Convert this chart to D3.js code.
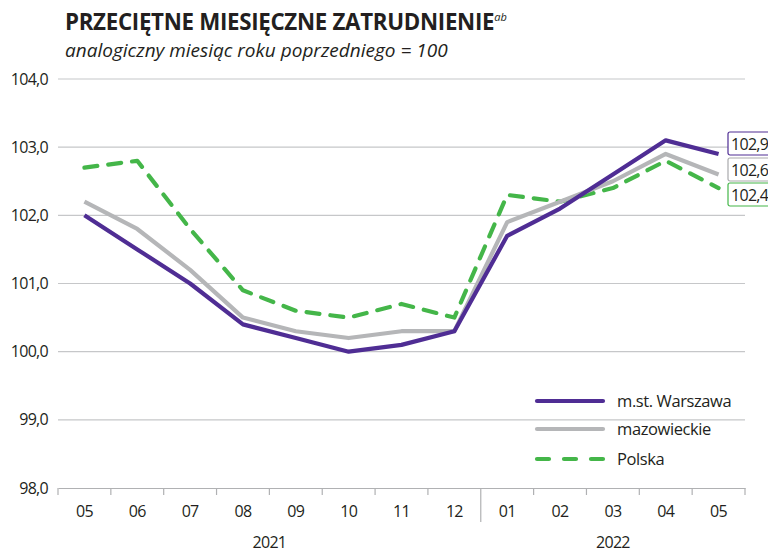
<!DOCTYPE html>
<html><head><meta charset="utf-8">
<script src="https://cdn.jsdelivr.net/npm/d3@7"></script>
<style>
body{margin:0;background:#fff;}
svg{display:block;font-family:"Open Sans","Noto Sans",sans-serif;}
</style></head>
<body><svg id="c" width="768" height="553"></svg>
<script>
const months = ["05","06","07","08","09","10","11","12","01","02","03","04","05"];
const years = [{label:"2021", from:0, to:7},{label:"2022", from:8, to:12}];
const yTicks = [98,99,100,101,102,103,104];
const warszawa = [102.0,101.5,101.0,100.4,100.2,100.0,100.1,100.3,101.7,102.1,102.6,103.1,102.9];
const mazowieckie = [102.2,101.8,101.2,100.5,100.3,100.2,100.3,100.3,101.9,102.2,102.5,102.9,102.6];
const polska = [102.7,102.8,101.8,100.9,100.6,100.5,100.7,100.5,102.3,102.2,102.4,102.8,102.4];
const seriesNames = ["m.st. Warszawa","mazowieckie","Polska"];

const series = [
  {name:seriesNames[0], values:warszawa, color:"#4f2d94", dash:null},
  {name:seriesNames[1], values:mazowieckie, color:"#b5b6b8", dash:null},
  {name:seriesNames[2], values:polska, color:"#44b649", dash:"13,11"}
];
const fmt = v => v.toFixed(1).replace(".", ",");

const svg = d3.select("#c");
const x = d3.scaleBand().domain(d3.range(months.length)).range([58,745]);
const y = d3.scaleLinear().domain([98,104]).range([488,79]);

// title
const t = svg.append("text").attr("x",65).attr("y",30).attr("font-size",22.3).attr("font-weight",700).attr("fill","#231f20").attr("letter-spacing","-0.3");
t.append("tspan").text("PRZECIĘTNE MIESIĘCZNE ZATRUDNIENIE");
t.append("tspan").attr("dy",-9).attr("font-size",11).attr("font-style","italic").attr("font-weight",400).attr("letter-spacing","0").text("ab");
svg.append("text").attr("x",65).attr("y",56.5).attr("font-size",19).attr("font-style","italic").attr("fill","#231f20").text("analogiczny miesiąc roku poprzedniego = 100");

// grid
svg.append("g").selectAll("line").data(yTicks.filter(d=>d>98)).join("line")
  .attr("x1",58).attr("x2",745).attr("y1",d=>y(d)).attr("y2",d=>y(d))
  .attr("stroke","#c6c7c9").attr("stroke-width",1.2);

// y axis labels
const yAxis = d3.axisLeft(y).tickValues(yTicks).tickFormat(fmt).tickSize(0).tickPadding(10);
const ya = svg.append("g").attr("transform","translate(58,0)").call(yAxis);
ya.select(".domain").remove();
ya.selectAll("text").attr("font-size",16).attr("fill","#231f20").attr("font-family","'Open Sans',sans-serif").attr("letter-spacing","-0.7");

// x axis
const xAxis = d3.axisBottom(x).tickFormat(i=>months[i]).tickSize(0).tickPadding(18);
const xa = svg.append("g").attr("transform","translate(0,488)").call(xAxis);
xa.select(".domain").attr("stroke","#b0b1b3").attr("stroke-width",1.2);
xa.selectAll("text").attr("font-size",16).attr("fill","#231f20").attr("font-family","'Open Sans',sans-serif").attr("letter-spacing","-0.7");
// boundary ticks
const bounds = d3.range(months.length+1).map(i => i<months.length ? x(i) : x(months.length-1)+x.bandwidth());
svg.append("g").selectAll("line").data(bounds).join("line")
  .attr("x1",d=>d).attr("x2",d=>d).attr("y1",488).attr("y2",(d,i)=>i===8?522:495)
  .attr("stroke","#b0b1b3").attr("stroke-width",1.2);
// years
svg.append("g").selectAll("text").data(years).join("text")
  .attr("x",d=>(x(d.from)+x(d.to)+x.bandwidth())/2)
  .attr("y",548).attr("text-anchor","middle").attr("font-size",16).attr("fill","#231f20").attr("letter-spacing","-0.7")
  .text(d=>d.label);

// lines
const line = d3.line().x((d,i)=>x(i)+x.bandwidth()/2).y(d=>y(d));
[series[2],series[1],series[0]].forEach(s=>{
  svg.append("path").attr("d",line(s.values)).attr("fill","none")
    .attr("stroke",s.color).attr("stroke-width",4.2).attr("stroke-linejoin","round")
    .attr("stroke-linecap",s.dash?"round":"butt").attr("stroke-dasharray",s.dash);
});

// end labels
const labelY = [144,170,195];
series.forEach((s,i)=>{
  const g = svg.append("g").attr("transform",`translate(728,${labelY[i]})`);
  g.append("rect").attr("x",0).attr("y",-12).attr("width",50).attr("height",23).attr("rx",2)
    .attr("fill","#fff").attr("stroke",s.color===("#b5b6b8")?"#a9aaac":s.color).attr("stroke-width",1.2);
  g.append("text").attr("x",3).attr("y",5.5).attr("font-size",16).attr("fill","#231f20").attr("letter-spacing","-0.7")
    .text(fmt(s.values[s.values.length-1]));
});

// legend
const lg = svg.append("g").attr("transform","translate(537,401)");
series.forEach((s,i)=>{
  const yy = [0,28,58][i];
  lg.append("line").attr("x1",0).attr("x2",66).attr("y1",yy).attr("y2",yy)
    .attr("stroke",s.color).attr("stroke-width",4.2).attr("stroke-linecap","round")
    .attr("stroke-dasharray",s.dash?"12,15":null);
  lg.append("text").attr("x",80).attr("y",yy+6).attr("font-size",16.5).attr("fill","#231f20").attr("letter-spacing","-0.4").text(s.name);
});
</script></body></html>
